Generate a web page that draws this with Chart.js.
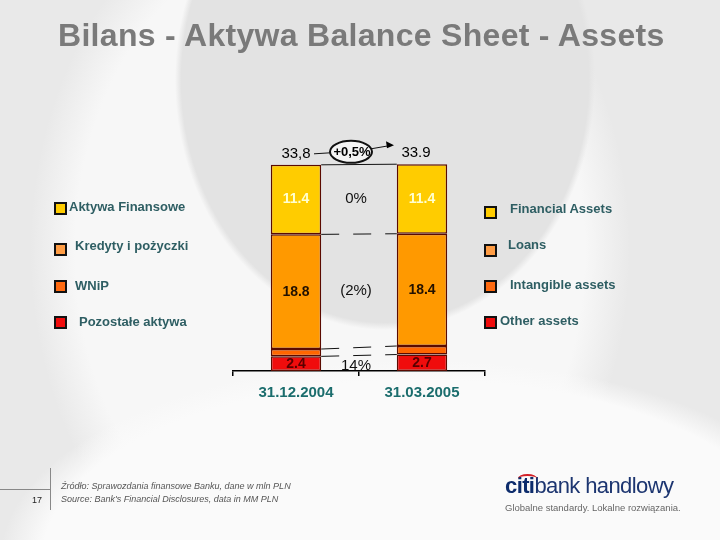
<!DOCTYPE html>
<html>
<head>
<meta charset="utf-8">
<script src="https://cdn.jsdelivr.net/npm/chart.js@4/dist/chart.umd.min.js"></script>
<style>
  body { margin: 0; }
  #wrap {
    position: relative; width: 720px; height: 540px; overflow: hidden;
    font-family: "Liberation Sans", Arial, sans-serif;
    background:
      radial-gradient(ellipse 210px 250px at 385px 80px, #e3e3e3 97%, rgba(227,227,227,0) 100%),
      radial-gradient(ellipse 420px 200px at 420px 560px, #fafafa 90%, rgba(250,250,250,0) 100%),
      radial-gradient(ellipse 300px 380px at 330px 250px, #f7f7f7 85%, rgba(247,247,247,0) 100%),
      #e9e9e9;
  }
  canvas { position: absolute; left: 0; top: 0; }
  .title { position: absolute; left: 58px; top: 17px; font-size: 32px; font-weight: bold; color: #7a7a7a; white-space: nowrap; letter-spacing: 0.3px; }
  .leg { position: absolute; font-size: 13px; font-weight: bold; color: #2e5e63; white-space: nowrap; }
  .sq { position: absolute; width: 9px; height: 9px; border: 2px solid #111; }
  .src { position: absolute; left: 61px; font-size: 9px; font-style: italic; color: #555; white-space: nowrap; }
</style>
</head>
<body>
<div id="wrap">
  <canvas id="chart" width="720" height="540"></canvas>
  <div class="title">Bilans - Aktywa Balance Sheet - Assets</div>
  <div id="legends"></div>

  <div style="position:absolute;left:50px;top:468px;width:1px;height:42px;background:#888"></div>
  <div style="position:absolute;left:0;top:489px;width:50px;height:1px;background:#888"></div>
  <div style="position:absolute;left:32px;top:495px;font-size:9px;color:#222">17</div>
  <div class="src" style="top:481px">Źródło: Sprawozdania finansowe Banku, dane w mln PLN</div>
  <div class="src" style="top:494px">Source: Bank's Financial Disclosures, data in MM PLN</div>

  <div style="position:absolute;left:505px;top:473px;font-size:22px;letter-spacing:-0.6px;white-space:nowrap">
    <span style="color:#0d2c6c;font-weight:bold">citi</span><span style="color:#1c3570">bank handlowy</span>
  </div>
  <div style="position:absolute;left:518px;top:474px;width:19px;height:7px;border-top:2px solid #d21f26;border-radius:50% 50% 0 0"></div>
  <div style="position:absolute;left:505px;top:502px;font-size:9.5px;color:#666;white-space:nowrap">Globalne standardy. Lokalne rozwiązania.</div>
</div>

<script>
// dane w mld PLN
const categories = ['31.12.2004', '31.03.2005'];
const pozostale = [2.4, 2.7];
const wnip = [1.2, 1.4];
const kredyty = [18.8, 18.4];
const finansowe = [11.4, 11.4];

const totalLabels = ['33,8', '33.9'];
const totalChange = '+0,5%';
// zmiana w kolejnosci serii: pozostale, wnip, kredyty, finansowe
const segChange = ['14%', null, '(2%)', '0%'];

const namesPl = ['Pozostałe aktywa', 'WNiP', 'Kredyty i pożyczki', 'Aktywa Finansowe'];
const namesEn = ['Other assets', 'Intangible assets', 'Loans', 'Financial Assets'];
const colors = ['#f00c0c', '#ff6600', '#ff9900', '#ffcc00'];
const legendColors = ['#f00c0c', '#ff6a10', '#ff9d45', '#ffcc00'];
const valueColors = ['#5a0000', null, '#221100', '#ffffd0'];

// legendy po obu stronach (HTML)
const leg = document.getElementById('legends');
const plPos = [[79, 322], [75, 286], [75, 246], [69, 207]];
const enPos = [[500, 321], [510, 285], [508, 245], [510, 209]];
const sqPl = [[54, 316], [54, 280], [54, 243], [54, 202]];
const sqEn = [[484, 316], [484, 280], [484, 244], [484, 206]];
namesPl.forEach((n, i) => {
    leg.innerHTML += `<div class="sq" style="left:${sqPl[i][0]}px;top:${sqPl[i][1]}px;background:${legendColors[i]}"></div>`;
    leg.innerHTML += `<div class="leg" style="left:${plPos[i][0]}px;top:${plPos[i][1] - 8}px">${n}</div>`;
    leg.innerHTML += `<div class="sq" style="left:${sqEn[i][0]}px;top:${sqEn[i][1]}px;background:${legendColors[i]}"></div>`;
    leg.innerHTML += `<div class="leg" style="left:${enPos[i][0]}px;top:${enPos[i][1] - 8}px">${namesEn[i]}</div>`;
});

const series = [pozostale, wnip, kredyty, finansowe];

// etykiety, sumy i linie laczace
const annotations = {
    id: 'annotations',
    afterDatasetsDraw(chart) {
        const ctx = chart.ctx;
        const y = chart.scales.y;
        const x = chart.scales.x;
        const midX = (x.getPixelForValue(0) + x.getPixelForValue(1)) / 2;
        const barHalf = chart.getDatasetMeta(0).data[0].width / 2;
        const lx = x.getPixelForValue(0) + barHalf;
        const rx = x.getPixelForValue(1) - barHalf;

        ctx.save();
        ctx.textAlign = 'center';
        ctx.textBaseline = 'middle';

        // wartosci w segmentach
        series.forEach((s, d) => {
            const meta = chart.getDatasetMeta(d);
            meta.data.forEach((bar, i) => {
                if (!valueColors[d]) return;
                ctx.font = 'bold 14px "Liberation Sans", Arial';
                ctx.fillStyle = valueColors[d];
                ctx.fillText(s[i].toFixed(1), bar.x, (bar.y + bar.base) / 2);
            });
        });

        // linie laczace granice segmentow
        ctx.strokeStyle = '#111';
        ctx.lineWidth = 1;
        let cum = [0, 0];
        series.forEach((s, d) => {
            cum = [cum[0] + s[0], cum[1] + s[1]];
            const y0 = y.getPixelForValue(cum[0]);
            const y1 = y.getPixelForValue(cum[1]);
            if (d === series.length - 1) ctx.setLineDash([]);
            else ctx.setLineDash([18, 14]);
            ctx.beginPath();
            ctx.moveTo(lx, y0);
            ctx.lineTo(rx, y1);
            ctx.stroke();
        });
        ctx.setLineDash([]);

        // zmiany procentowe miedzy slupkami
        ctx.font = '15px "Liberation Sans", Arial';
        ctx.fillStyle = '#111';
        segChange.forEach((t, d) => {
            if (!t) return;
            const m = chart.getDatasetMeta(d).data;
            const cy = ((m[0].y + m[0].base) / 2 + (m[1].y + m[1].base) / 2) / 2;
            ctx.fillText(t, midX - 3, cy + (d === 0 ? 3 : 0));
        });

        // sumy nad slupkami
        const top = chart.getDatasetMeta(series.length - 1).data;
        ctx.font = '15px "Liberation Sans", Arial';
        ctx.fillStyle = '#000';
        totalLabels.forEach((t, i) => {
            ctx.fillText(t, top[i].x - (i === 1 ? 6 : 0), top[i].y - 11);
        });

        // elipsa ze zmiana sumy i strzalka
        const ey = top[0].y - 13;
        const ex = midX - 8;
        ctx.beginPath();
        ctx.moveTo(top[0].x + 18, top[0].y - 11);
        ctx.lineTo(ex - 21, ey + 1);
        ctx.stroke();
        ctx.beginPath();
        ctx.moveTo(ex + 20, ey - 3);
        ctx.lineTo(top[1].x - 30, top[1].y - 19);
        ctx.stroke();
        ctx.beginPath();
        ctx.moveTo(top[1].x - 28, top[1].y - 19);
        ctx.lineTo(top[1].x - 36, top[1].y - 23);
        ctx.lineTo(top[1].x - 35, top[1].y - 16);
        ctx.closePath();
        ctx.fillStyle = '#000';
        ctx.fill();
        ctx.beginPath();
        ctx.ellipse(ex, ey, 21, 11, 0, 0, Math.PI * 2);
        ctx.fillStyle = '#f4f4f4';
        ctx.fill();
        ctx.lineWidth = 2;
        ctx.stroke();
        ctx.font = 'bold 13px "Liberation Sans", Arial';
        ctx.fillStyle = '#000';
        ctx.fillText(totalChange, ex + 1, ey + 1);
        ctx.restore();
    }
};

new Chart(document.getElementById('chart'), {
    type: 'bar',
    data: {
        labels: categories,
        datasets: series.map((s, i) => ({
            label: namesEn[i],
            data: s,
            backgroundColor: colors[i],
            borderColor: '#5a0a00',
            borderWidth: 1.5,
            borderSkipped: false,
            categoryPercentage: 1,
            barPercentage: 0.4
        }))
    },
    options: {
        responsive: false,
        animation: false,
        layout: { padding: { left: 233, right: 235, top: 127, bottom: 129 } },
        plugins: { legend: { display: false }, tooltip: { enabled: false } },
        scales: {
            x: {
                stacked: true,
                afterFit: s => { s.height = 40; },
                grid: { drawOnChartArea: false, tickLength: 5, color: '#000', lineWidth: 1.5 },
                border: { color: '#000', width: 1.5 },
                ticks: {
                    padding: 8,
                    color: '#1b6d6d',
                    font: { family: '"Liberation Sans", Arial', size: 15, weight: 'bold' }
                }
            },
            y: { stacked: true, display: false, min: 0, max: 40 }
        }
    },
    plugins: [annotations]
});
</script>
</body>
</html>
